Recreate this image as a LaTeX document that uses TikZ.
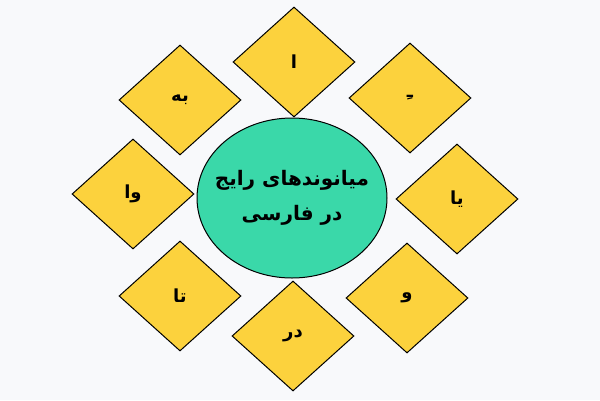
\documentclass[tikz,border=0pt]{standalone}
\usepackage{fontspec}
\usetikzlibrary{shapes.geometric}
\TeXXeTstate=1
\newfontfamily\arabicfont[Script=Arabic]{DejaVu Sans}
\definecolor{bgpaper}{HTML}{F8F9FB}
\definecolor{petalyellow}{HTML}{FCD23D}
\definecolor{hubgreen}{HTML}{3AD8A9}

\begin{document}
\begin{tikzpicture}[
    x=1pt, y=-1pt,
    petal/.style={diamond, draw=black, fill=petalyellow, line width=1pt,
    inner sep=0pt, minimum width=122pt, minimum height=110pt,
    font=\arabicfont\bfseries\fontsize{18}{21}\selectfont},
    hub/.style={ellipse, draw=black, fill=hubgreen, line width=1pt,
    inner xsep=-16pt, inner ysep=0pt, minimum width=190pt, minimum height=160pt, align=center,
    font=\arabicfont\bfseries\fontsize{20}{35}\selectfont}
]

%Draw the background
\fill[bgpaper] (0,0) rectangle (600,400);
%Draw the hub
\node[hub] (hub) at (292,198) {\beginR میانوندهای رایج\endR\\ \beginR در فارسی\endR};
%Draw the petals
\node[petal] (alef) at (294,62) {\beginR ا\endR};
\node[petal] (kasre) at (410,98) {\beginR ـِ\endR};
\node[petal] (ya) at (457,199) {\beginR یا\endR};
\node[petal] (vav) at (407,298) {\beginR و\endR};
\node[petal] (dar) at (293,336) {\beginR در\endR};
\node[petal] (ta) at (180,296) {\beginR تا\endR};
\node[petal] (va) at (133,194) {\beginR وا\endR};
\node[petal] (be) at (180,100) {\beginR به\endR};

\end{tikzpicture}
\end{document}
